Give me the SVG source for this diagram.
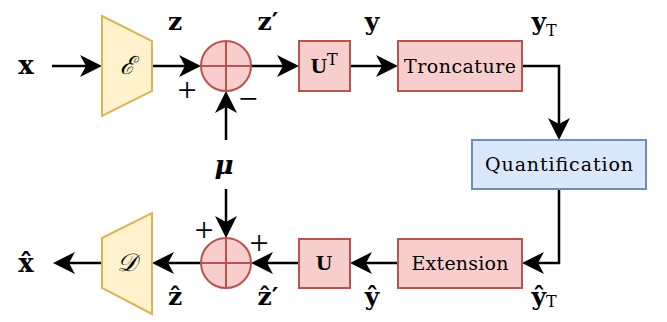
<svg xmlns="http://www.w3.org/2000/svg" width="667" height="322" viewBox="0 0 667 322">
<style>
.yel{fill:#fff2cc;stroke:#d6b656;stroke-width:2}
.red{fill:#f8cecc;stroke:#b85450;stroke-width:2}
.blu{fill:#dae8fc;stroke:#6c8ebf;stroke-width:2}
.cr{stroke:#b85450;stroke-width:2;fill:none}
.con{fill:none;stroke:#000;stroke-width:2.5;marker-end:url(#arr)}
text{font-family:"DejaVu Serif","Liberation Serif",serif;fill:#000}
.box{font-size:19px;text-anchor:middle}
.m{font-size:25px;font-weight:bold;text-anchor:middle}
.sub{font-size:16px;font-weight:normal}
.sg{font-family:"Liberation Serif",serif;font-size:34px;text-anchor:middle}
.cal{font-size:25px;font-style:italic;text-anchor:middle}
</style>
<defs>
<marker id="arr" markerUnits="userSpaceOnUse" markerWidth="24" markerHeight="24" viewBox="0 0 24 24" refX="15" refY="12" orient="auto">
<path d="M1,1 L23,12 L1,23 L7,12 Z" fill="#000"/>
</marker>
</defs>

<g id="connectors">
<path class="con" d="M52,66 H94"/>
<path class="con" d="M152,66 H193"/>
<path class="con" d="M251,66 H291"/>
<path class="con" d="M350,66 H390"/>
<path class="con" d="M522,66 H559 V132"/>
<path class="con" d="M559,189 V263 H530"/>
<path class="con" d="M398,263 H358"/>
<path class="con" d="M299,263 H259"/>
<path class="con" d="M201,263 H160"/>
<path class="con" d="M102,263 H61"/>
<path class="con" d="M226,140 V99"/>
<path class="con" d="M226,189 V230"/>
</g>

<g id="encoder">
<path class="yel" d="M102,16 L152,41 L152,91 L102,116 Z"/>
<text class="cal" x="127" y="74">ℰ</text>
</g>

<g id="sum1">
<circle class="red" cx="226" cy="66" r="25"/>
<path class="cr" d="M201,66 H251 M226,41 V91"/>
</g>

<g id="ut">
<rect class="red" x="299" y="41" width="51" height="50"/>
<text class="m" x="324" y="73" style="font-size:19px">U<tspan class="sub" dy="-8">T</tspan></text>
</g>

<g id="troncature">
<rect class="red" x="398" y="41" width="124" height="50"/>
<text class="box" x="460" y="73" textLength="112">Troncature</text>
</g>

<g id="quantification">
<rect class="blu" x="472" y="140" width="174" height="49"/>
<text class="box" x="559" y="171" textLength="148">Quantification</text>
</g>

<g id="extension">
<rect class="red" x="398" y="239" width="124" height="49"/>
<text class="box" x="460" y="270" textLength="97">Extension</text>
</g>

<g id="u">
<rect class="red" x="299" y="239" width="51" height="49"/>
<text class="m" x="324" y="270" style="font-size:19px">U</text>
</g>

<g id="sum2">
<circle class="red" cx="226" cy="263" r="25"/>
<path class="cr" d="M201,263 H251 M226,238 V288"/>
</g>

<g id="decoder">
<path class="yel" d="M102,238 L152,213 L152,314 L102,288 Z"/>
<text class="cal" x="127" y="271">𝒟</text>
</g>

<g id="labels">
<text class="m" x="26" y="74" style="font-size:26px">x</text>
<text class="m" x="26" y="272" style="font-size:26px">x̂</text>
<text class="m" x="175" y="30">z</text>
<text class="m" x="268" y="30">z′</text>
<text class="m" x="372" y="30">y</text>
<text class="m" x="544" y="30">y<tspan class="sub" dy="6">T</tspan></text>
<text class="m" x="175" y="305">ẑ</text>
<text class="m" x="268" y="305">ẑ′</text>
<text class="m" x="372" y="305">ŷ</text>
<text class="m" x="544" y="305">ŷ<tspan class="sub" dy="2">T</tspan></text>
<text class="m" x="224" y="174" style="font-style:italic;font-size:26px">μ</text>
<text class="sg" x="187" y="101">+</text>
<text class="sg" x="248" y="110">−</text>
<text class="sg" x="204" y="241">+</text>
<text class="sg" x="259" y="254">+</text>
</g>
</svg>
